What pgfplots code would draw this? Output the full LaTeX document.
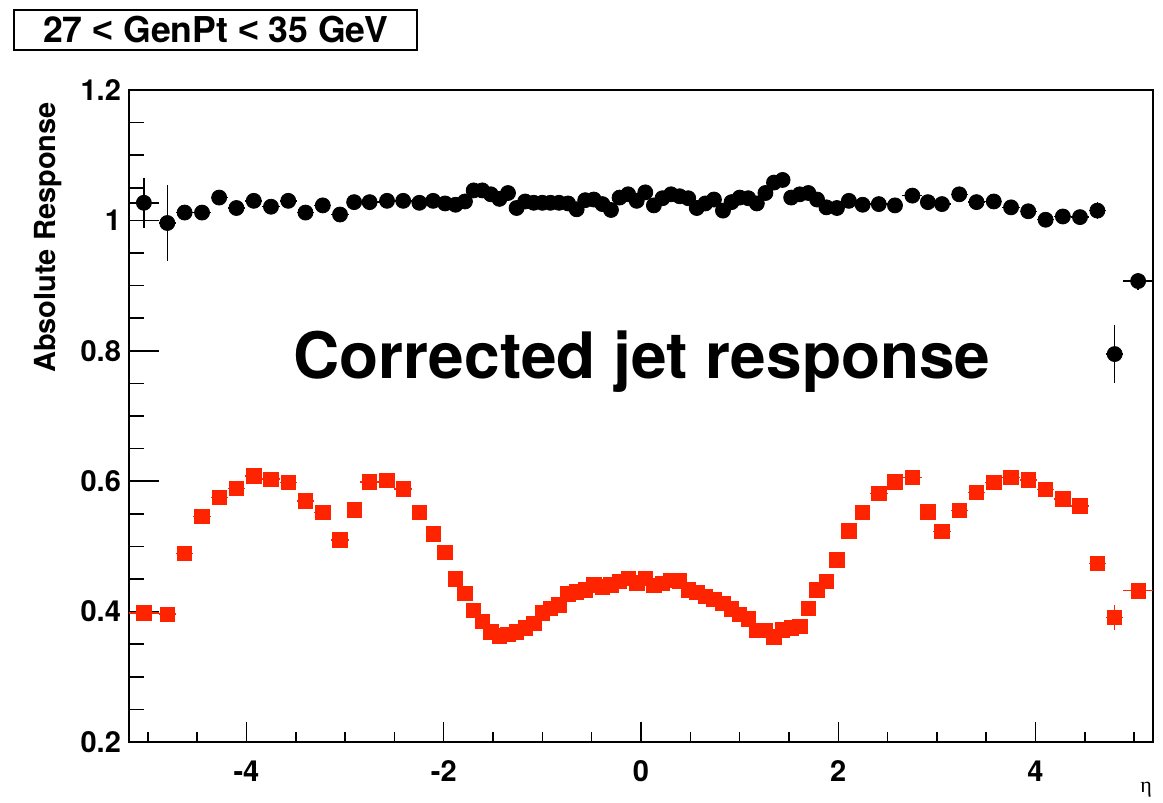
\documentclass[border=0pt]{standalone}
\usepackage{fontspec}
\setmainfont{TeX Gyre Heros}
\newfontfamily\seriffont{Liberation Serif}
\newfontfamily\arialfont{Liberation Sans}
\usepackage{pgfplots}
\usepackage{pgfplotstable}
\pgfplotsset{compat=1.18}
\definecolor{rootred}{RGB}{255,36,0}
\newcommand{\lt}{{\arialfont\bfseries <}}

\pgfplotstableread{
x ex y ey
-5.040 0.151 1.027 0.038
-4.8025 0.0865 0.996 0.059
-4.627 0.089 1.012 0.006
-4.4505 0.0875 1.012 0.006
-4.277 0.086 1.035 0.006
-4.102 0.089 1.019 0.006
-3.926 0.087 1.030 0.005
-3.7515 0.0875 1.021 0.005
-3.5765 0.0875 1.030 0.005
-3.4015 0.0875 1.012 0.005
-3.2265 0.0875 1.023 0.005
-3.0515 0.0875 1.009 0.005
-2.9085 0.0555 1.028 0.005
-2.7515 0.1015 1.028 0.005
-2.575 0.075 1.030 0.005
-2.411 0.089 1.030 0.005
-2.247 0.075 1.027 0.005
-2.1075 0.0645 1.030 0.005
-1.9865 0.0565 1.026 0.005
-1.880 0.050 1.024 0.005
-1.785 0.045 1.029 0.005
-1.6965 0.0435 1.046 0.005
-1.6095 0.0435 1.046 0.005
-1.5225 0.0435 1.040 0.005
-1.4355 0.0435 1.033 0.005
-1.3485 0.0435 1.042 0.005
-1.2615 0.0435 1.019 0.005
-1.1745 0.0435 1.029 0.005
-1.0875 0.0435 1.027 0.005
-1.0005 0.0435 1.027 0.005
-0.918 0.039 1.027 0.005
-0.831 0.048 1.027 0.005
-0.7395 0.0435 1.026 0.005
-0.6525 0.0435 1.017 0.005
-0.5655 0.0435 1.031 0.005
-0.4785 0.0435 1.032 0.005
-0.3915 0.0435 1.025 0.005
-0.3045 0.0435 1.016 0.005
-0.2175 0.0435 1.035 0.005
-0.1305 0.0435 1.040 0.005
-0.0435 0.0435 1.030 0.005
0.0435 0.0435 1.043 0.005
0.1305 0.0435 1.023 0.005
0.2175 0.0435 1.034 0.005
0.3045 0.0435 1.040 0.005
0.3915 0.0435 1.037 0.005
0.4785 0.0435 1.034 0.005
0.5655 0.0435 1.019 0.005
0.6525 0.0435 1.026 0.005
0.7395 0.0435 1.032 0.005
0.831 0.048 1.015 0.005
0.918 0.039 1.028 0.005
1.0005 0.0435 1.035 0.005
1.0875 0.0435 1.034 0.005
1.1745 0.0435 1.026 0.005
1.2615 0.0435 1.042 0.005
1.3485 0.0435 1.058 0.005
1.4355 0.0435 1.062 0.005
1.5225 0.0435 1.035 0.005
1.6095 0.0435 1.040 0.005
1.6965 0.0435 1.042 0.005
1.785 0.045 1.032 0.005
1.880 0.050 1.020 0.005
1.9865 0.0565 1.019 0.005
2.1075 0.0645 1.030 0.005
2.247 0.075 1.024 0.005
2.411 0.089 1.025 0.005
2.575 0.075 1.023 0.005
2.7515 0.1015 1.038 0.005
2.9085 0.0555 1.028 0.005
3.0515 0.0875 1.025 0.005
3.2265 0.0875 1.040 0.005
3.4015 0.0875 1.028 0.005
3.5765 0.0875 1.029 0.005
3.7515 0.0875 1.020 0.005
3.926 0.087 1.014 0.005
4.102 0.089 1.001 0.006
4.277 0.086 1.006 0.006
4.4505 0.0875 1.005 0.006
4.627 0.089 1.015 0.013
4.8025 0.0865 0.795 0.045
5.040 0.151 0.907 0.013
}\blackdata

\pgfplotstableread{
x ex y ey
-5.040 0.151 0.398 0.012
-4.8025 0.0865 0.396 0.006
-4.627 0.089 0.489 0.004
-4.4505 0.0875 0.546 0.004
-4.277 0.086 0.575 0.004
-4.102 0.089 0.589 0.004
-3.926 0.087 0.608 0.004
-3.7515 0.0875 0.603 0.004
-3.5765 0.0875 0.598 0.004
-3.4015 0.0875 0.570 0.004
-3.2265 0.0875 0.552 0.004
-3.0515 0.0875 0.510 0.004
-2.9085 0.0555 0.556 0.004
-2.7515 0.1015 0.599 0.004
-2.575 0.075 0.601 0.004
-2.411 0.089 0.588 0.004
-2.247 0.075 0.552 0.004
-2.1075 0.0645 0.519 0.004
-1.9865 0.0565 0.491 0.004
-1.880 0.050 0.450 0.004
-1.785 0.045 0.428 0.004
-1.6965 0.0435 0.402 0.004
-1.6095 0.0435 0.385 0.004
-1.5225 0.0435 0.369 0.004
-1.4355 0.0435 0.363 0.004
-1.3485 0.0435 0.365 0.004
-1.2615 0.0435 0.369 0.004
-1.1745 0.0435 0.375 0.004
-1.0875 0.0435 0.382 0.004
-1.0005 0.0435 0.398 0.004
-0.918 0.039 0.405 0.004
-0.831 0.048 0.410 0.004
-0.7395 0.0435 0.427 0.004
-0.6525 0.0435 0.430 0.004
-0.5655 0.0435 0.433 0.004
-0.4785 0.0435 0.441 0.004
-0.3915 0.0435 0.438 0.004
-0.3045 0.0435 0.441 0.004
-0.2175 0.0435 0.446 0.004
-0.1305 0.0435 0.451 0.004
-0.0435 0.0435 0.444 0.004
0.0435 0.0435 0.451 0.004
0.1305 0.0435 0.440 0.004
0.2175 0.0435 0.443 0.004
0.3045 0.0435 0.448 0.004
0.3915 0.0435 0.447 0.004
0.4785 0.0435 0.433 0.004
0.5655 0.0435 0.429 0.004
0.6525 0.0435 0.423 0.004
0.7395 0.0435 0.419 0.004
0.831 0.048 0.413 0.004
0.918 0.039 0.404 0.004
1.0005 0.0435 0.396 0.004
1.0875 0.0435 0.389 0.004
1.1745 0.0435 0.371 0.004
1.2615 0.0435 0.371 0.004
1.3485 0.0435 0.361 0.004
1.4355 0.0435 0.372 0.004
1.5225 0.0435 0.375 0.004
1.6095 0.0435 0.377 0.004
1.6965 0.0435 0.405 0.004
1.785 0.045 0.433 0.004
1.880 0.050 0.446 0.004
1.9865 0.0565 0.479 0.004
2.1075 0.0645 0.524 0.004
2.247 0.075 0.552 0.004
2.411 0.089 0.581 0.004
2.575 0.075 0.599 0.004
2.7515 0.1015 0.606 0.004
2.9085 0.0555 0.553 0.004
3.0515 0.0875 0.523 0.004
3.2265 0.0875 0.555 0.004
3.4015 0.0875 0.583 0.004
3.5765 0.0875 0.598 0.004
3.7515 0.0875 0.606 0.004
3.926 0.087 0.602 0.004
4.102 0.089 0.587 0.004
4.277 0.086 0.573 0.004
4.4505 0.0875 0.562 0.004
4.627 0.089 0.474 0.004
4.8025 0.0865 0.391 0.019
5.040 0.151 0.432 0.004
}\reddata

\begin{document}
\begin{tikzpicture}[x=1pt,y=1pt]
\useasboundingbox (0,0) rectangle (581.5,401.5);
\begin{axis}[
  at={(64.5pt,30.5pt)}, anchor=south west,
  scale only axis, width=512pt, height=326pt,
  xmin=-5.191, xmax=5.191, ymin=0.2, ymax=1.2,
  axis line style={line width=1pt},
  every tick/.style={black, line width=0.75pt},
  tick align=inside,
  xtick pos=left, ytick pos=left,
  xtick={-4,-2,0,2,4}, xticklabels={-4,-2,0,2,4},
  minor xtick={-5,-4.5,-3.5,-3,-2.5,-1.5,-1,-0.5,0.5,1,1.5,2.5,3,3.5,4.5,5},
  ytick={0.2,0.4,0.6,0.8,1,1.2}, yticklabels={0.2,0.4,0.6,0.8,1,1.2},
  minor ytick={0.25,0.3,0.35,0.45,0.5,0.55,0.65,0.7,0.75,0.85,0.9,0.95,1.05,1.1,1.15},
  xtick style={/pgfplots/major tick length=10pt,/pgfplots/minor tick length=5pt},
  ytick style={/pgfplots/major tick length=15pt,/pgfplots/minor tick length=7.5pt},
  ticklabel style={font=\fontsize{14.5pt}{17pt}\selectfont\bfseries},
  xticklabel style={anchor=base, yshift=-20pt},
  yticklabel style={anchor=east, xshift=-0.5pt},
  ylabel={Absolute Response},
  ylabel style={at={(axis description cs:-0.0791,0.992)}, anchor=east, rotate=0,
    font=\fontsize{14.5pt}{17pt}\selectfont\bfseries},
  clip=false,
]
\addplot[only marks, mark=*, mark size=3.75pt, color=black,
  error bars/.cd, x dir=both, x explicit, y dir=both, y explicit,
  error mark=none, error bar style={line width=0.75pt, black}]
  table[x=x, y=y, x error=ex, y error=ey] {\blackdata};
\addplot[only marks, mark=square*, mark size=3.6pt, color=rootred,
  error bars/.cd, x dir=both, x explicit, y dir=both, y explicit,
  error mark=none, error bar style={line width=0.75pt, rootred}]
  table[x=x, y=y, x error=ex, y error=ey] {\reddata};
\end{axis}
\node[draw, line width=0.75pt, minimum width=201.5pt, minimum height=20pt, inner sep=0pt,
  font=\fontsize{17.8pt}{19pt}\selectfont\bfseries] at (107.75,386.5) {27 \lt{} GenPt \lt{} 35 GeV};
\node[anchor=base, font=\fontsize{32pt}{36pt}\selectfont\bfseries, inner sep=0pt] at (321,212) {Corrected jet response};
\node[font=\fontsize{11pt}{13pt}\seriffont] at (573,6.5) {η};
\end{tikzpicture}
\end{document}
